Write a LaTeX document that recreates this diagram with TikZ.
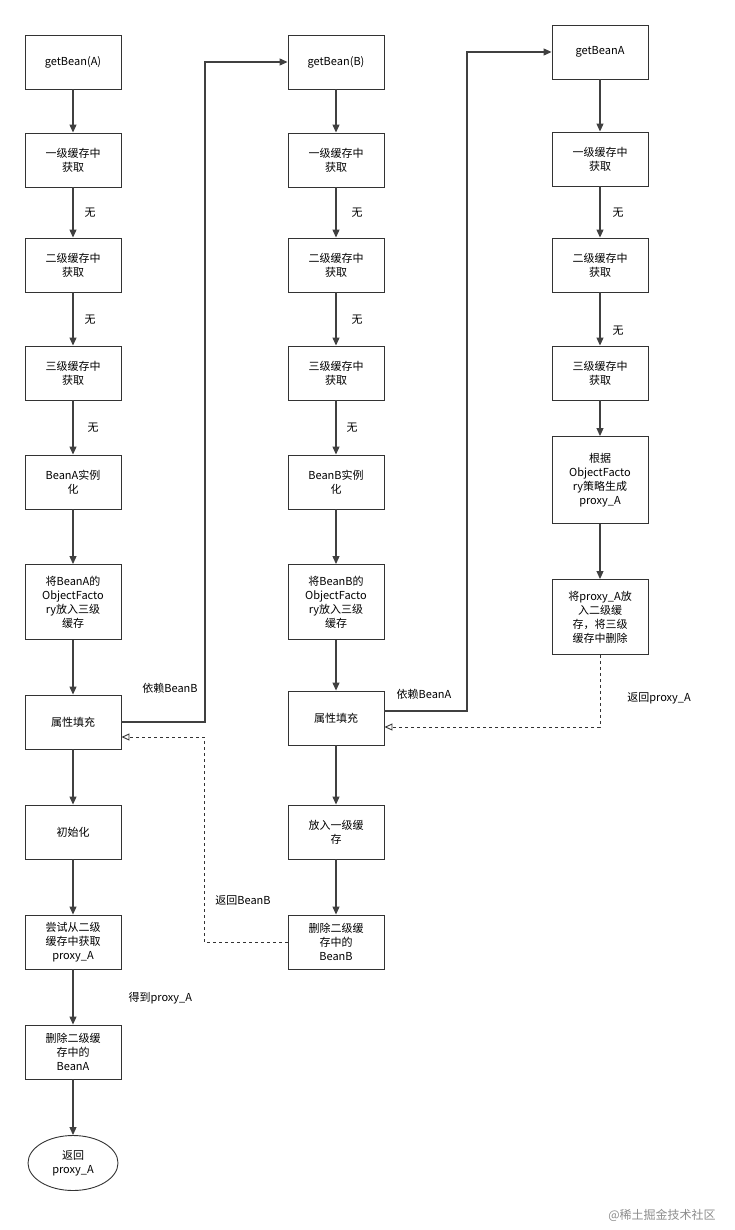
\documentclass[tikz,border=0pt]{standalone}
\usepackage{fontspec}
\setmainfont{Noto Sans CJK SC}
\usetikzlibrary{arrows.meta,shapes.geometric}
\begin{document}
\begin{tikzpicture}[x=1pt,y=-1pt,
  box/.style={draw=black!80,line width=0.9pt,minimum width=96pt,minimum height=54pt,align=center,font=\fontsize{11}{14}\selectfont,inner sep=1pt},
  tall/.style={box,minimum height=75pt},
  arr/.style={line width=1.1pt,draw=black!75,-{Triangle[length=8pt,width=7pt]}},
  ret/.style={line width=0.9pt,dashed,draw=black!80,-{Triangle[open,length=8pt,width=7pt]}},
  lbl/.style={font=\fontsize{11}{14}\selectfont}]
\useasboundingbox (0,0) rectangle (734,1230);
% column 1
\node[box] (a1) at (73,62) {getBean(A)};
\node[box] (a2) at (73,160) {一级缓存中\\获取};
\node[box] (a3) at (73,265) {二级缓存中\\获取};
\node[box] (a4) at (73,373) {三级缓存中\\获取};
\node[box] (a5) at (73,482) {BeanA实例\\化};
\node[tall] (a6) at (73,602) {将BeanA的\\ObjectFacto\\ry放入三级\\缓存};
\node[box] (a7) at (73,722) {属性填充};
\node[box] (a8) at (73,832) {初始化};
\node[box] (a9) at (73,942) {尝试从二级\\缓存中获取\\proxy\_A};
\node[box] (a10) at (73,1052) {删除二级缓\\存中的\\BeanA};
\node[draw=black!80,line width=0.9pt,ellipse,minimum width=90pt,minimum height=55pt,align=center,font=\fontsize{11}{14}\selectfont] (a11) at (73,1163) {返回\\proxy\_A};
% column 2
\node[box] (b1) at (336,62) {getBean(B)};
\node[box] (b2) at (336,160) {一级缓存中\\获取};
\node[box] (b3) at (336,265) {二级缓存中\\获取};
\node[box] (b4) at (336,373) {三级缓存中\\获取};
\node[box] (b5) at (336,482) {BeanB实例\\化};
\node[tall] (b6) at (336,602) {将BeanB的\\ObjectFacto\\ry放入三级\\缓存};
\node[box] (b7) at (336,718) {属性填充};
\node[box] (b8) at (336,832) {放入一级缓\\存};
\node[box] (b9) at (336,942) {删除二级缓\\存中的\\BeanB};
% column 3
\node[box] (c1) at (600,52) {getBeanA};
\node[box] (c2) at (600,159) {一级缓存中\\获取};
\node[box] (c3) at (600,265) {二级缓存中\\获取};
\node[box] (c4) at (600,373) {三级缓存中\\获取};
\node[box,minimum height=87pt] (c5) at (600,480) {根据\\ObjectFacto\\ry策略生成\\proxy\_A};
\node[tall] (c6) at (600,617) {将proxy\_A放\\入二级缓\\存，将三级\\缓存中删除};
% vertical arrows
\foreach \p/\q in {a1/a2,a2/a3,a3/a4,a4/a5,a5/a6,a6/a7,a7/a8,a8/a9,a9/a10,a10/a11,
  b1/b2,b2/b3,b3/b4,b4/b5,b5/b6,b6/b7,b7/b8,b8/b9,
  c1/c2,c2/c3,c3/c4,c4/c5,c5/c6}
  \draw[arr] (\p) -- (\q);
\node[lbl] (l1) at (90,213) {无};
\node[lbl] (l2) at (90,320) {无};
\node[lbl] (l3) at (93,428) {无};
\node[lbl] (l4) at (357,213) {无};
\node[lbl] (l5) at (357,320) {无};
\node[lbl] (l6) at (352,428) {无};
\node[lbl] (l7) at (618,213) {无};
\node[lbl] (l8) at (618,331) {无};
\node[lbl] (l9) at (125,998) [anchor=west] {得到proxy\_A};
% dependency arrows
\draw[arr] (a7.east) -- (205,722) -- (205,62) -- (b1.west);
\node[lbl] (d1) at (170,688) {依赖BeanB};
\draw[arr] (b7.east |- 0,711) -- (467,711) -- (467,52) -- (c1.west);
\node[lbl] (d2) at (424,694) {依赖BeanA};
% return arrows
\draw[ret] (c6.south) -- (600,727) -- (b7.east |- 0,727);
\node[lbl] (r1) at (659,698) {返回proxy\_A};
\draw[ret] (b9.west) -- (204,942) -- (204,737) -- (a7.east |- 0,737);
\node[lbl] (r2) at (243,900) {返回BeanB};
\node[font=\fontsize{12}{14}\selectfont,text=black!45] (wm) at (662,1215) {@稀土掘金技术社区};
\end{tikzpicture}
\end{document}
